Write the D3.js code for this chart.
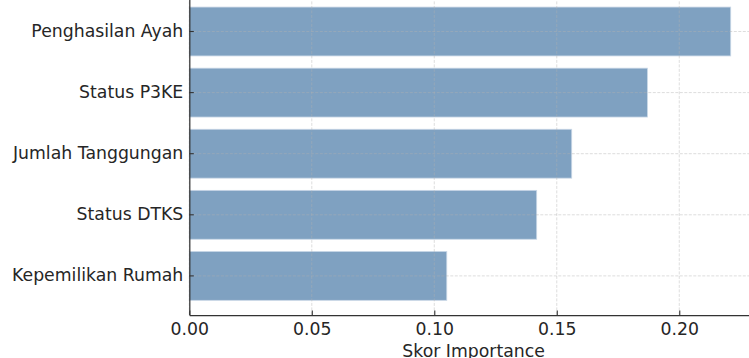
<!DOCTYPE html>
<html>
<head>
<meta charset="utf-8">
<script src="https://cdn.jsdelivr.net/npm/d3@7"></script>
<style>
  html, body { margin: 0; padding: 0; background: #fff; }
  svg { display: block; }
  text { font-family: "DejaVu Sans", sans-serif; fill: #262626; }
</style>
</head>
<body>
<svg id="chart" width="749" height="358"></svg>
<script>
const categories = ["Penghasilan Ayah", "Status P3KE", "Jumlah Tanggungan", "Status DTKS", "Kepemilikan Rumah"];
const importance = [0.2210, 0.1870, 0.1561, 0.1418, 0.1051];
const xTicks = [0.00, 0.05, 0.10, 0.15, 0.20];
const xTitle = "Skor Importance";

(function () {
const svg = d3.select("#chart");
const pLeft = 189.3, pRight = 757.9, pTop = -7.6, pBottom = 315;
const fs = "17.3px";

const x = d3.scaleLinear().domain([0, 0.2321]).range([pLeft, pRight]);
const y = d3.scaleBand().domain(categories).range([pTop, pBottom])
  .paddingInner(0.2).paddingOuter(0.24);

const data = categories.map((c, i) => ({ c, v: importance[i] }));

// bars
svg.append("g").selectAll("rect").data(data).join("rect")
  .attr("x", x(0))
  .attr("y", d => y(d.c))
  .attr("width", d => x(d.v) - x(0))
  .attr("height", y.bandwidth())
  .attr("fill", "#7fa1c1")
  .attr("stroke", "#c9d7e6")
  .attr("stroke-width", 0.8);

// grid (dashed)
const grid = svg.append("g").attr("stroke", "#b0b0b0").attr("stroke-opacity", 0.55)
  .attr("stroke-width", 0.8).attr("stroke-dasharray", "3,1.5");
grid.selectAll("line.v").data(xTicks).join("line").attr("class", "v")
  .attr("x1", d => x(d)).attr("x2", d => x(d)).attr("y1", pTop).attr("y2", pBottom);
grid.selectAll("line.h").data(categories).join("line").attr("class", "h")
  .attr("x1", pLeft).attr("x2", pRight)
  .attr("y1", d => y(d) + y.bandwidth() / 2).attr("y2", d => y(d) + y.bandwidth() / 2);

// x axis
const xAxis = d3.axisBottom(x).tickValues(xTicks).tickFormat(d3.format(".2f"))
  .tickSizeInner(-4.5).tickSizeOuter(0).tickPadding(7.5);
const gx = svg.append("g").attr("transform", `translate(0,${pBottom})`).call(xAxis);
gx.select(".domain").attr("stroke", "#333").attr("stroke-width", 1.25);
gx.selectAll(".tick line").attr("stroke", "#333").attr("stroke-width", 1.1);
gx.selectAll(".tick text").attr("font-size", fs).attr("fill", "#262626")
  .attr("font-family", "DejaVu Sans, sans-serif");

// y axis
const yAxis = d3.axisLeft(y).tickSizeInner(-4.5).tickSizeOuter(0).tickPadding(6);
const gy = svg.append("g").attr("transform", `translate(${pLeft},0)`).call(yAxis);
gy.select(".domain").attr("stroke", "#333").attr("stroke-width", 1.25);
gy.selectAll(".tick line").attr("stroke", "#333").attr("stroke-width", 1.1);
gy.selectAll(".tick text").attr("font-size", fs).attr("fill", "#262626")
  .attr("font-family", "DejaVu Sans, sans-serif");

// x title
svg.append("text")
  .attr("x", (pLeft + pRight) / 2)
  .attr("y", 356.5)
  .attr("text-anchor", "middle")
  .attr("font-size", fs)
  .text(xTitle);
})();
</script>
</body>
</html>
